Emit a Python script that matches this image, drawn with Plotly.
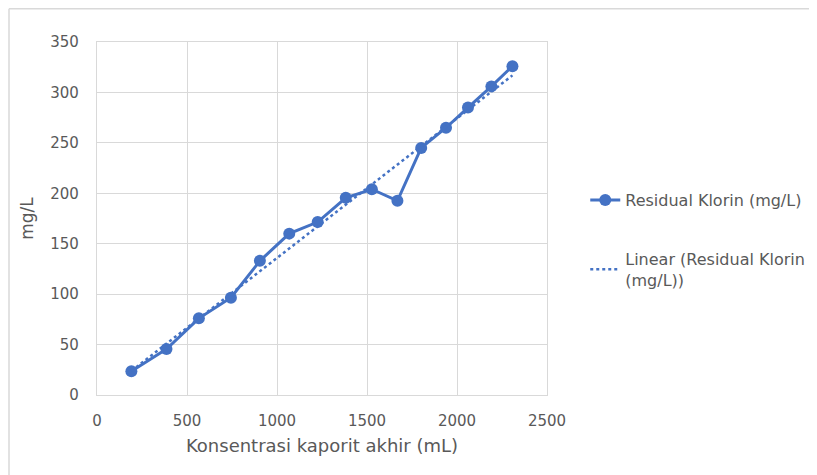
import numpy as np
import plotly.graph_objects as go

# Data
konsentrasi = [191, 386, 566, 744, 905, 1068, 1226, 1382, 1527, 1669, 1801, 1939, 2061, 2191, 2308]
residual = [23.5, 45.5, 76, 96.5, 133, 160, 171.5, 195.5, 204, 192.5, 245, 265, 285, 306, 326]
x_ticks = [0, 500, 1000, 1500, 2000, 2500]
y_ticks = [0, 50, 100, 150, 200, 250, 300, 350]

BLUE = "#4472C4"
GRID = "#d9d9d9"
TXT = "#595959"
FONT = "DejaVu Sans, Liberation Sans, Arial, sans-serif"

# Excel-style linear trendline (least-squares fit over the data)
k, c = np.polyfit(konsentrasi, residual, 1)
trend_x = [min(konsentrasi), max(konsentrasi)]
trend_y = [k * v + c for v in trend_x]

fig = go.Figure()
fig.add_trace(go.Scatter(
    x=konsentrasi, y=residual, mode="lines+markers",
    name="Residual Klorin (mg/L)", legendgroup="a",
    line=dict(color=BLUE, width=3),
    marker=dict(color=BLUE, size=12),
))
fig.add_trace(go.Scatter(
    x=trend_x, y=trend_y, mode="lines",
    name="Linear (Residual Klorin<br>(mg/L))", legendgroup="b",
    line=dict(color=BLUE, width=2.5, dash="dot"),
))

# The page body has an 8px offset; plot area at page px 97..547 x 42..395
OFF = 8
L, T, PW, PH = 97 - OFF, 42 - OFF, 450, 353
W, H = 817 - OFF, 475 - OFF


def px(xp):
    return (xp - 97) / PW


def py(yp):
    return (395 - yp) / PH


# chart-area frame: only its left and top edges are inside the picture
frame = dict(color="#d9d9d9", width=1.5)
fig.add_shape(type="line", xref="paper", yref="paper",
              x0=px(9), x1=px(9), y0=py(8.8), y1=py(490), line=frame, layer="below")
fig.add_shape(type="line", xref="paper", yref="paper",
              x0=px(9), x1=px(840), y0=py(8.8), y1=py(8.8), line=frame, layer="below")

fig.update_layout(
    width=W, height=H,
    margin=dict(l=L, r=W - L - PW, t=T, b=H - T - PH, autoexpand=False),
    paper_bgcolor="white", plot_bgcolor="white",
    font=dict(family=FONT, color=TXT, size=15),
    showlegend=True,
    legend=dict(x=1.085, y=0.60, xanchor="left", yanchor="top",
                font=dict(size=16, color=TXT, family=FONT),
                tracegroupgap=35, bgcolor="rgba(0,0,0,0)"),
    xaxis=dict(range=[0, 2500], tickvals=x_ticks, showgrid=True, gridcolor=GRID, gridwidth=1.3,
               zeroline=False, showline=True, linecolor=GRID, linewidth=1.3, mirror=True,
               ticks="", ticklabelstandoff=12,
               tickfont=dict(size=15, color=TXT, family=FONT),
               title=dict(text="Konsentrasi kaporit akhir (mL)", standoff=10,
                          font=dict(size=18, color=TXT, family=FONT))),
    yaxis=dict(range=[0, 350], tickvals=y_ticks, showgrid=True, gridcolor=GRID, gridwidth=1.3,
               zeroline=False, showline=True, linecolor=GRID, linewidth=1.3, mirror=True,
               ticks="", ticklabelstandoff=14,
               tickfont=dict(size=15, color=TXT, family=FONT),
               title=dict(text="mg/L", standoff=12,
                          font=dict(size=17, color=TXT, family=FONT))),
)

fig.write_html("out.html")
